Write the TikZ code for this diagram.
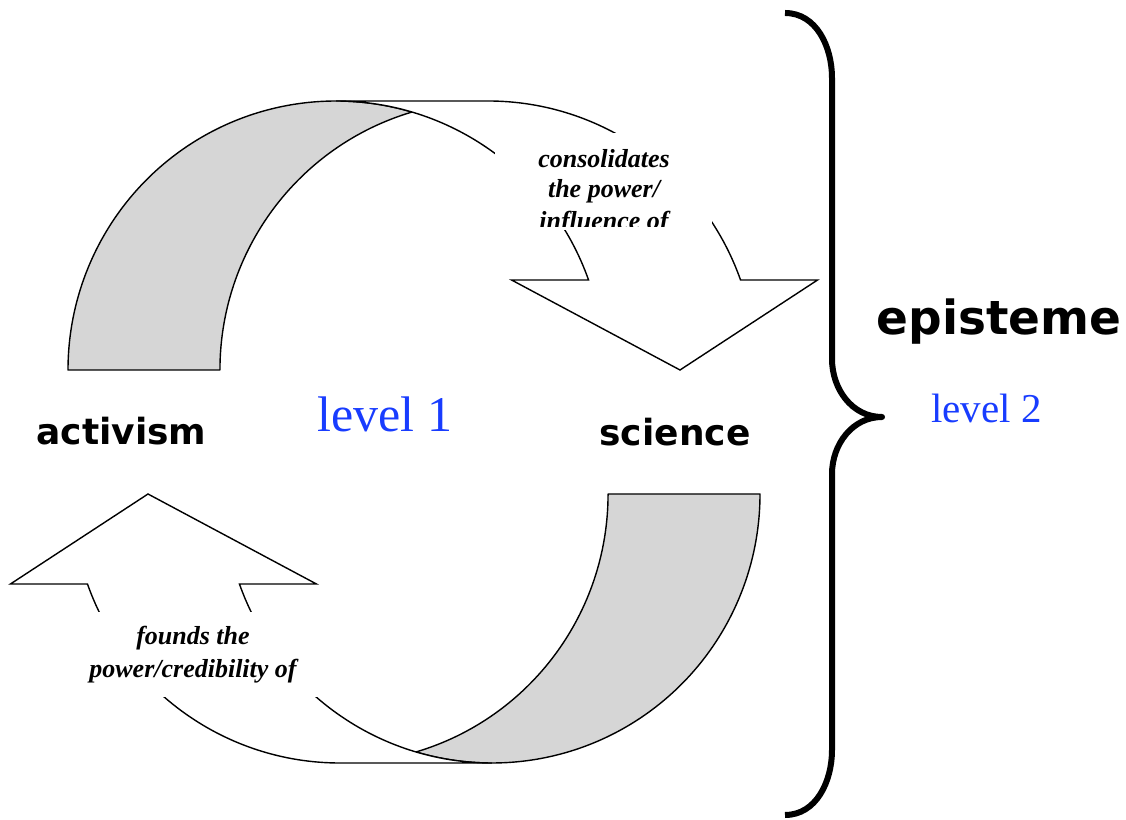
\documentclass[tikz,border=0pt]{standalone}
\usepackage{fontspec}
\setmainfont{Liberation Serif}
\newfontfamily\termfont{DejaVu Sans}
\definecolor{bandgray}{RGB}{214,214,214}
\definecolor{levelblue}{RGB}{24,60,255}

\begin{document}
\begin{tikzpicture}[x=1pt,y=1pt,
  band/.style={fill=bandgray,draw=black,line width=1.4pt,line join=round},
  front/.style={fill=white,draw=black,line width=1.4pt,line join=miter},
  ell/.style={x radius=268pt,y radius=269pt},
  term/.style={font=\termfont\bfseries\fontsize{36}{43}\selectfont,anchor=base,inner sep=0pt},
  bigterm/.style={font=\termfont\bfseries\fontsize{47}{56}\selectfont,anchor=base,inner sep=0pt},
  level/.style={text=levelblue,anchor=base,inner sep=0pt},
  verb/.style={font=\bfseries\itshape\fontsize{26}{30}\selectfont,anchor=base,inner sep=0pt},
  brace/.style={draw=black,line width=6pt,line join=round}
]
\useasboundingbox (0,0) rectangle (1126,819);

% ---- upper curved arrow: activism -> science ----
% shaded underside of the band
\path[band] (68,449) arc[start angle=180,end angle=73.53,ell]
                     arc[start angle=106.47,end angle=180,ell] -- cycle;
% front face with the arrowhead pointing down
\path[front] (680,449) -- (511.56,539) -- (588.56,539)
   arc[start angle=19.55,end angle=90,ell] -- (488,718)
   arc[start angle=90,end angle=19.55,ell] -- (817.56,539) -- cycle;

% ---- lower curved arrow: science -> activism ----
\path[band] (760,325) arc[start angle=360,end angle=253.53,ell]
                      arc[start angle=286.47,end angle=360,ell] -- cycle;
\path[front] (148,325) -- (316.44,235) -- (239.44,235)
   arc[start angle=199.55,end angle=270,ell] -- (340,56)
   arc[start angle=270,end angle=199.55,ell] -- (10.44,235) -- cycle;

% ---- label on the upper arrow (text box clipped at the bottom) ----
\fill[white] (495,589) rectangle (712,686);
\begin{scope}
  \clip (495,592.5) rectangle (712,686);
  \node[verb] (cons1) at (604,651) {consolidates};
  \node[verb] (cons2) at (604,621) {the power/};
  \node[verb] (cons3) at (604,589.5) {influence of};
\end{scope}

% ---- label on the lower arrow ----
\fill[white] (80,122) rectangle (325,207);
\node[verb] (found1) at (193,174) {founds the};
\node[verb] (found2) at (193,142) {power/credibility of};

% ---- terms and levels ----
\node[term] (activism) at (121.5,374) {activism};
\node[term] (science) at (675,373) {science};
\node[level,font=\fontsize{50}{60}\selectfont] (level1) at (385,387) {level 1};

% ---- brace grouping both terms ----
\coordinate (btop) at (785,806);
\coordinate (btip) at (882,402);
\coordinate (bbot) at (785,4);
\path[brace] (btop) to[out=0,in=90] (832,741) -- (832,460)
   to[out=-90,in=180] (btip) to[out=180,in=90] (832,345) -- (832,69)
   to[out=-90,in=0] (bbot);

\node[bigterm] (episteme) at (999,484) {episteme};
\node[level,font=\fontsize{41}{49}\selectfont] (level2) at (986.5,396) {level 2};
\end{tikzpicture}
\end{document}
